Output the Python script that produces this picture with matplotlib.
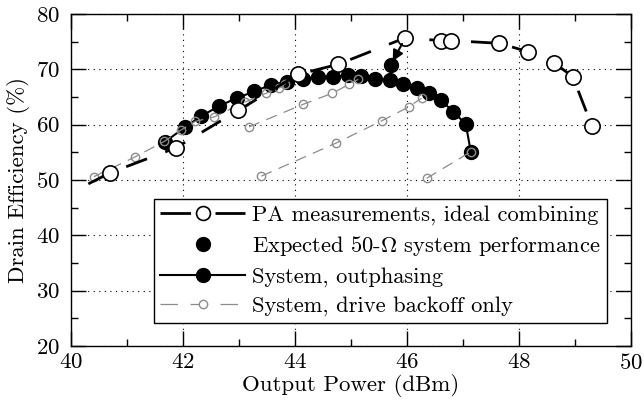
import matplotlib
matplotlib.use('Agg')
import matplotlib.pyplot as plt
from matplotlib.ticker import MultipleLocator

plt.rcParams['font.family'] = 'serif'
plt.rcParams['font.serif'] = ['cmr10']
plt.rcParams['mathtext.fontset'] = 'cm'
plt.rcParams['axes.formatter.use_mathtext'] = True

# PA measurements, ideal combining
pa_x = [40.70, 41.87, 42.99, 44.06, 44.77, 45.97, 46.60, 46.79, 47.65, 48.16, 48.62, 48.96, 49.30]
pa_y = [51.3, 55.8, 62.6, 69.1, 70.9, 75.7, 75.2, 75.2, 74.7, 73.2, 71.2, 68.7, 59.8]
pa_start = (40.31, 49.3)

# expected 50-ohm system point
exp_x = [45.71]
exp_y = [70.8]

# system, outphasing
op_x = [41.68, 42.03, 42.32, 42.65, 42.96, 43.27, 43.57, 43.85, 44.15, 44.42, 44.68,
        44.95, 45.18, 45.43, 45.70, 45.92, 46.17, 46.40, 46.60, 46.83, 47.05, 47.14]
op_y = [56.9, 59.5, 61.5, 63.4, 64.8, 66.0, 67.2, 67.8, 68.3, 68.7, 68.6,
        69.0, 68.8, 68.3, 68.0, 67.3, 66.7, 65.7, 64.5, 62.3, 60.1, 55.1]

# system, drive backoff only (several branches)
bo1_x = [40.41, 41.15, 41.67, 41.96, 42.22, 42.56, 43.11, 43.49, 43.72, 43.83]
bo1_y = [50.6, 54.2, 57.0, 59.0, 60.6, 61.4, 64.1, 65.7, 66.6, 67.4]
bo2_x = [43.18, 44.15, 44.67, 44.97, 45.13]
bo2_y = [59.6, 63.7, 65.7, 67.3, 68.2]
bo3_x = [43.40, 44.74, 45.55, 46.03, 46.26]
bo3_y = [50.7, 56.7, 60.7, 63.2, 64.8]
bo4_x = [46.35, 47.14]
bo4_y = [50.3, 55.1]

fs = 16.5

fig = plt.figure(figsize=(6.44, 4.05), dpi=100)
ax = fig.add_axes([0.1102, 0.1457, 0.8696, 0.8197])

ax.plot(op_x, op_y, color='k', lw=1.5, marker='o', ms=10, mfc='k', mec='k',
        zorder=3, label='System, outphasing')

gray = '#8c8c8c'
for i, (bx, by) in enumerate([(bo1_x, bo1_y), (bo2_x, bo2_y), (bo3_x, bo3_y), (bo4_x, bo4_y)]):
    ax.plot(bx, by, color=gray, lw=0.9, ls=(0, (9, 6)), marker='o', ms=6,
            mfc='none', mec=gray, mew=1.0, zorder=4,
            label='System, drive backoff only' if i == 0 else None)

ax.plot([pa_start[0]] + pa_x, [pa_start[1]] + pa_y, color='k', lw=2.0,
        ls=(0, (8, 7)), zorder=5)
ax.plot(pa_x, pa_y, ls='none', marker='o', ms=11, mfc='white', mec='k', mew=1.2, zorder=6)

ax.plot(exp_x, exp_y, ls='none', marker='o', ms=10, color='k', zorder=6)
ax.annotate('', xy=(exp_x[0], exp_y[0]), xytext=(pa_x[5], pa_y[5]),
            arrowprops=dict(arrowstyle='-|>', color='k', lw=1.5, mutation_scale=16,
                            shrinkA=5, shrinkB=3), zorder=7)

# legend proxies
h_pa, = ax.plot([], [], color='k', lw=2.0, ls=(0, (11, 8.8)), marker='o', ms=10,
                mfc='white', mec='k', mew=1.2)
h_exp, = ax.plot([], [], ls='none', marker='o', ms=10, color='k')
h_op, = ax.plot([], [], color='k', lw=1.5, marker='o', ms=10)
h_bo, = ax.plot([], [], color=gray, lw=0.9, ls=(0, (14, 10)), marker='o', ms=6,
                mfc='white', mec=gray)

leg = ax.legend([h_pa, h_exp, h_op, h_bo],
                ['PA measurements, ideal combining',
                 r'Expected 50-$\Omega$ system performance',
                 'System, outphasing',
                 'System, drive backoff only'],
                loc='lower right', bbox_to_anchor=(0.957, 0.07), fontsize=16.2,
                handlelength=3.8, handletextpad=0.3, labelspacing=0.4,
                borderpad=0.28, borderaxespad=0, fancybox=False, framealpha=1,
                edgecolor='k')
leg.get_frame().set_linewidth(1.0)
leg.set_zorder(10)

ax.set_xlim(40, 50)
ax.set_ylim(20, 80)
ax.xaxis.set_major_locator(MultipleLocator(2))
ax.xaxis.set_minor_locator(MultipleLocator(1))
ax.yaxis.set_major_locator(MultipleLocator(10))
ax.yaxis.set_minor_locator(MultipleLocator(5))
ax.tick_params(which='both', direction='in', top=True, right=True, labelsize=fs, width=1.0)
ax.tick_params(which='major', length=11)
ax.tick_params(which='minor', length=5)
ax.tick_params(axis='x', which='major', pad=5)
ax.tick_params(axis='y', which='major', pad=8)
ax.grid(True, which='major', color='k', lw=0.8, ls=(0, (1, 4)))
for s in ax.spines.values():
    s.set_linewidth(1.0)

ax.set_xlabel('Output Power (dBm)', fontsize=fs, labelpad=1)
ax.set_ylabel('Drain Efficiency (%)', fontsize=fs, labelpad=4)

fig.savefig('out.png', dpi=100)
